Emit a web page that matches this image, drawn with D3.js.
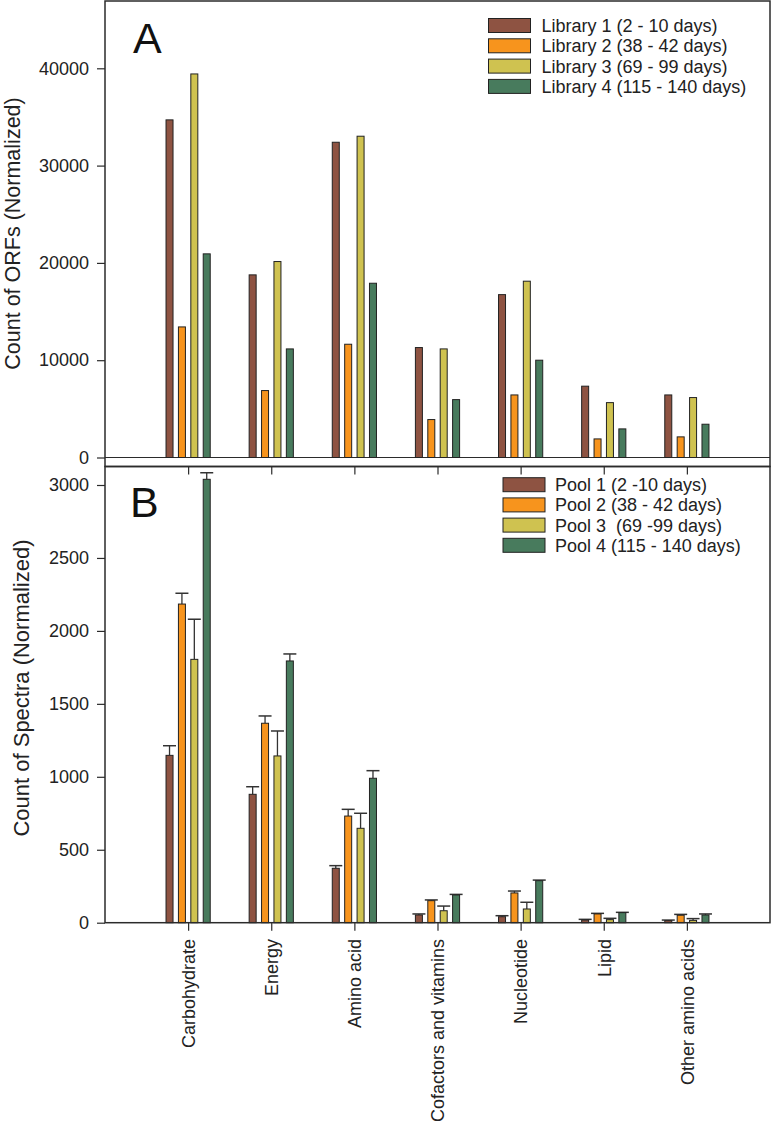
<!DOCTYPE html>
<html>
<head>
<meta charset="utf-8">
<script src="https://cdn.jsdelivr.net/npm/d3@7"></script>
<style>
  body { margin: 0; background: #fff; }
  svg { display: block; font-family: "Liberation Sans", Arial, sans-serif; }
  text { white-space: pre; }
</style>
</head>
<body>
<svg id="chart" width="772" height="1126"></svg>
<script>
const categories = ["Carbohydrate", "Energy", "Amino acid", "Cofactors and vitamins", "Nucleotide", "Lipid", "Other amino acids"];

const libraryNames = ["Library 1 (2 - 10 days)", "Library 2 (38 - 42 days)", "Library 3 (69 - 99 days)", "Library 4 (115 - 140 days)"];
const library1 = [34700, 18770, 32400, 11300, 16740, 7330, 6430];
const library2 = [13420, 6880, 11640, 3900, 6430, 1910, 2120];
const library3 = [39420, 20140, 33020, 11160, 18120, 5640, 6160];
const library4 = [20930, 11160, 17910, 5950, 10000, 2940, 3420];

const poolNames = ["Pool 1 (2 -10 days)", "Pool 2 (38 - 42 days)", "Pool 3  (69 -99 days)", "Pool 4 (115 - 140 days)"];
const pool1 = [1147, 880, 373, 53, 41, 18, 14];
const pool1Err = [66, 52, 18, 7, 7, 5, 4];
const pool2 = [2184, 1367, 731, 151, 204, 60, 51];
const pool2Err = [74, 50, 46, 5, 13, 4, 6];
const pool3 = [1805, 1143, 647, 82, 94, 21, 16];
const pool3Err = [275, 171, 103, 32, 46, 9, 12];
const pool4 = [3039, 1794, 990, 190, 288, 69, 53];
const pool4Err = [45, 48, 52, 4, 4, 2, 7];

const ticksA = [0, 10000, 20000, 30000, 40000];
const ticksB = [0, 500, 1000, 1500, 2000, 2500, 3000];

const colors = ["#8e5342", "#f7941d", "#cfc250", "#487b5d"];

const svg = d3.select("#chart");
const left = 105, right = 770;
const axisColor = "#2b2b2b";

const x = d3.scalePoint().domain(categories).range([left, right]).padding(1);
const inner = d3.scaleBand().domain([0, 1, 2, 3]).range([-24.8, 24.8]).paddingInner(0.355).paddingOuter(0.1775);

// ---------- Panel A ----------
const aTop = 1, aBottom = 466.5;
const yA = d3.scaleLinear().domain([0, 40000]).range([457.5, 68.3]);
const seriesA = [library1, library2, library3, library4];

const gA = svg.append("g");
gA.append("line").attr("x1", left).attr("x2", right).attr("y1", yA(0)).attr("y2", yA(0))
  .attr("stroke", axisColor).attr("stroke-width", 1.2);

seriesA.forEach((vals, si) => {
  gA.selectAll(null).data(vals).enter().append("rect")
    .attr("x", (d, i) => x(categories[i]) + inner(si) + 0.5)
    .attr("width", inner.bandwidth() - 1)
    .attr("y", d => yA(d))
    .attr("height", d => yA(0) - yA(d))
    .attr("fill", colors[si])
    .attr("stroke", "#222").attr("stroke-width", 1);
});

const axA = gA.append("g").attr("transform", `translate(${left},0)`)
  .call(d3.axisLeft(yA).tickValues(ticksA).tickFormat(d3.format("d")).tickSize(8).tickPadding(8).tickSizeOuter(0));
axA.select(".domain").remove();
axA.selectAll("line").attr("stroke", axisColor).attr("stroke-width", 1.2);
axA.selectAll("text").attr("font-size", 18).attr("fill", "#222").attr("font-family", "Liberation Sans, Arial, sans-serif");

const axAx = gA.append("g").attr("transform", `translate(0,${aBottom})`)
  .call(d3.axisBottom(x).tickSize(8).tickSizeOuter(0).tickFormat(""));
axAx.select(".domain").remove();
axAx.selectAll("line").attr("stroke", axisColor).attr("stroke-width", 1.2);

gA.append("rect").attr("x", left).attr("y", aTop).attr("width", right - left).attr("height", aBottom - aTop)
  .attr("fill", "none").attr("stroke", axisColor).attr("stroke-width", 1.5);

gA.append("text").attr("x", 133).attr("y", 53).attr("font-size", 43).attr("fill", "#111").text("A");

gA.append("text").attr("transform", "translate(20,233.5) rotate(-90)")
  .attr("text-anchor", "middle").attr("font-size", 21.5).attr("fill", "#222")
  .text("Count of ORFs (Normalized)");

const legA = gA.append("g");
libraryNames.forEach((name, i) => {
  const cy = 25.5 + i * 20.3;
  legA.append("rect").attr("x", 488.5).attr("y", cy - 7).attr("width", 42).attr("height", 14)
    .attr("fill", colors[i]).attr("stroke", "#222").attr("stroke-width", 1);
  legA.append("text").attr("x", 541.5).attr("y", cy + 6.5).attr("font-size", 18).attr("fill", "#222").text(name);
});

// ---------- Panel B ----------
const bTop = 466.5, bBottom = 922.7;
const yB = d3.scaleLinear().domain([0, 3000]).range([922.7, 485]);
const seriesB = [pool1, pool2, pool3, pool4];
const errB = [pool1Err, pool2Err, pool3Err, pool4Err];

const gB = svg.append("g");
seriesB.forEach((vals, si) => {
  const errs = errB[si];
  gB.selectAll(null).data(vals).enter().append("line")
    .attr("x1", (d, i) => x(categories[i]) + inner(si) + inner.bandwidth() / 2)
    .attr("x2", (d, i) => x(categories[i]) + inner(si) + inner.bandwidth() / 2)
    .attr("y1", d => yB(d))
    .attr("y2", (d, i) => yB(d + errs[i]))
    .attr("stroke", "#333").attr("stroke-width", 1.3);
  gB.selectAll(null).data(vals).enter().append("line")
    .attr("x1", (d, i) => x(categories[i]) + inner(si) + inner.bandwidth() / 2 - 6.5)
    .attr("x2", (d, i) => x(categories[i]) + inner(si) + inner.bandwidth() / 2 + 6.5)
    .attr("y1", (d, i) => yB(d + errs[i]))
    .attr("y2", (d, i) => yB(d + errs[i]))
    .attr("stroke", "#333").attr("stroke-width", 1.5);
  gB.selectAll(null).data(vals).enter().append("rect")
    .attr("x", (d, i) => x(categories[i]) + inner(si) + 0.5)
    .attr("width", inner.bandwidth() - 1)
    .attr("y", d => yB(d))
    .attr("height", d => yB(0) - yB(d))
    .attr("fill", colors[si])
    .attr("stroke", "#222").attr("stroke-width", 1);
});

const axB = gB.append("g").attr("transform", `translate(${left},0)`)
  .call(d3.axisLeft(yB).tickValues(ticksB).tickFormat(d3.format("d")).tickSize(8).tickPadding(8).tickSizeOuter(0));
axB.select(".domain").remove();
axB.selectAll("line").attr("stroke", axisColor).attr("stroke-width", 1.2);
axB.selectAll("text").attr("font-size", 18).attr("fill", "#222").attr("font-family", "Liberation Sans, Arial, sans-serif");

const axBx = gB.append("g").attr("transform", `translate(0,${bBottom})`)
  .call(d3.axisBottom(x).tickSize(8).tickSizeOuter(0).tickPadding(16));
axBx.select(".domain").remove();
axBx.selectAll("line").attr("stroke", axisColor).attr("stroke-width", 1.2);
axBx.selectAll("text")
  .attr("font-size", 18).attr("fill", "#222").attr("font-family", "Liberation Sans, Arial, sans-serif")
  .attr("text-anchor", "end")
  .attr("transform", "translate(0,16.3) rotate(-90)")
  .attr("x", 0).attr("y", 0).attr("dy", "0.35em");

gB.append("rect").attr("x", left).attr("y", bTop).attr("width", right - left).attr("height", bBottom - bTop)
  .attr("fill", "none").attr("stroke", axisColor).attr("stroke-width", 1.5);

gB.append("text").attr("x", 130).attr("y", 517).attr("font-size", 43).attr("fill", "#111").text("B");

gB.append("text").attr("transform", "translate(29,688) rotate(-90)")
  .attr("text-anchor", "middle").attr("font-size", 22).attr("fill", "#222")
  .text("Count of Spectra (Normalized)");

const legB = gB.append("g");
poolNames.forEach((name, i) => {
  const cy = 484.7 + i * 20.2;
  legB.append("rect").attr("x", 503).attr("y", cy - 7).attr("width", 42).attr("height", 14)
    .attr("fill", colors[i]).attr("stroke", "#222").attr("stroke-width", 1);
  legB.append("text").attr("x", 555).attr("y", cy + 6.5).attr("font-size", 18).attr("fill", "#222").text(name);
});
</script>
</body>
</html>
